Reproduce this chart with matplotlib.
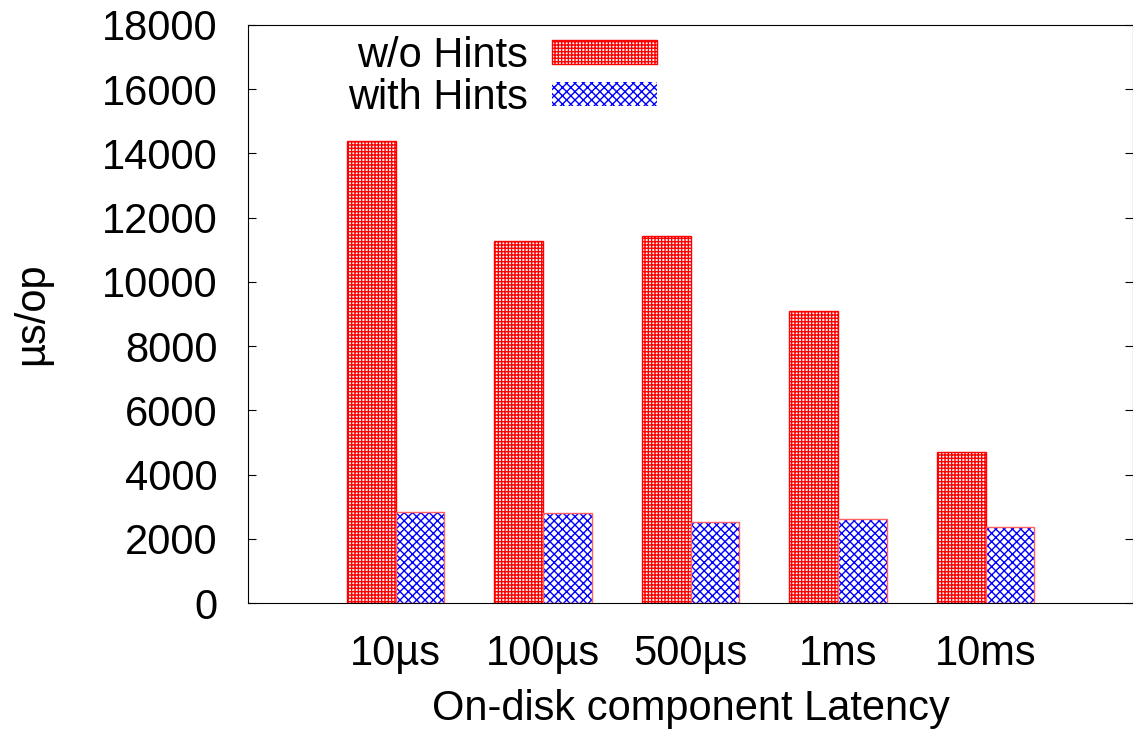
import matplotlib
matplotlib.use("Agg")
import matplotlib.pyplot as plt
import numpy as np

plt.rcParams['font.family'] = ['Liberation Sans', 'DejaVu Sans']
plt.rcParams['hatch.linewidth'] = 1.0

latency = ["10µs", "100µs", "500µs", "1ms", "10ms"]
without_hints = [14400, 11270, 11430, 9090, 4700]
with_hints = [2830, 2800, 2520, 2620, 2360]

x = np.arange(1, len(latency) + 1)
w = 0.33
fs = 30

fig = plt.figure(figsize=(11.33, 7.33), dpi=100)
ax = fig.add_axes([0.219, 0.177, 0.781, 0.789])

ax.bar(x - w / 2, without_hints, w, facecolor="white", edgecolor="red",
       hatch="+++++", linewidth=1.0, label="w/o Hints")
ax.bar(x + w / 2, with_hints, w, facecolor="white", edgecolor="blue",
       hatch="xxxx", linewidth=0, label="with Hints")
ax.bar(x + w / 2, with_hints, w, fill=False, edgecolor="#ff6060", linewidth=1.0)

ax.set_xlim(0, 6)
ax.set_ylim(0, 18000)
ax.set_yticks(np.arange(0, 18001, 2000))
ax.set_xticks(x)
ax.set_xticklabels(latency)
ax.tick_params(axis="both", labelsize=fs, direction="in", length=6)
ax.tick_params(axis="y", right=True, pad=22)
ax.tick_params(axis="x", length=0, pad=22)
ax.set_xlabel("On-disk component Latency", fontsize=fs, labelpad=11)
ax.set_ylabel("µs/op", fontsize=fs, labelpad=36)

ax.legend(loc="upper center", bbox_to_anchor=(0.287, 1.032), frameon=False,
          fontsize=fs, markerfirst=False, handlelength=2.5, handleheight=0.5,
          labelspacing=0.05, borderaxespad=0.3, handletextpad=0.6)

fig.savefig("out.png", dpi=100)
